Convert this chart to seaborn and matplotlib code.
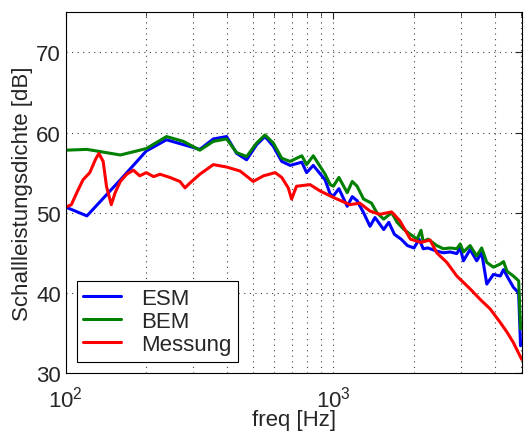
import numpy as np
import pandas as pd
import seaborn as sns
import matplotlib
matplotlib.use("Agg")
import matplotlib.pyplot as plt

# values
freq_bem = [100, 120, 160, 200, 238, 275, 317, 356, 399, 435, 474, 517, 555, 596, 641, 689,
            762, 794, 841, 931, 973, 1000, 1048, 1126, 1176, 1226, 1296, 1387, 1453, 1541,
            1650, 1730, 1835, 1939, 2054, 2124, 2165, 2256, 2432, 2576, 2730, 2890, 2975,
            3060, 3240, 3430, 3580, 3740, 3960, 4200, 4320, 4450, 4700, 4920, 5000]
bem = [57.8, 57.9, 57.2, 58.0, 59.5, 58.9, 57.8, 58.9, 59.2, 57.5, 57.0, 58.7, 59.7, 58.7, 56.8, 56.4,
       57.1, 56.0, 57.1, 54.8, 53.5, 53.3, 54.4, 52.5, 53.9, 53.3, 51.7, 51.2, 50.0, 49.2,
       50.0, 48.8, 47.9, 47.3, 46.7, 47.8, 46.4, 46.7, 45.9, 45.5, 45.6, 45.5, 46.1,
       45.1, 45.9, 44.6, 45.6, 43.8, 43.2, 43.6, 43.9, 42.7, 42.1, 41.5, 35.5]

freq_esm = [100, 120, 160, 200, 238, 317, 356, 399, 435, 474, 517, 555, 596, 641, 689, 762,
            794, 841, 931, 973, 1000, 1048, 1126, 1176, 1226, 1296, 1370, 1430, 1541, 1610,
            1690, 1790, 1890, 2000, 2090, 2165, 2256, 2432, 2576, 2730, 2890, 2975, 3060,
            3240, 3430, 3580, 3740, 3960, 4200, 4320, 4450, 4700, 4920, 5000]
esm = [50.7, 49.6, 54.1, 57.7, 59.1, 57.9, 59.2, 59.5, 57.4, 56.6, 58.5, 59.5, 58.3, 56.4, 55.9, 56.3,
       55.0, 55.9, 54.1, 52.3, 52.1, 53.0, 50.8, 52.0, 51.5, 50.0, 48.3, 49.4, 47.9, 48.8,
       47.3, 46.7, 45.9, 45.6, 46.7, 45.5, 45.6, 45.2, 45.0, 45.1, 44.9, 45.6, 44.0,
       45.4, 44.0, 45.0, 41.1, 42.3, 42.1, 42.9, 42.1, 40.7, 40.0, 33.4]

freq_mess = [100, 105, 110, 116, 123, 129, 133, 138, 142, 148, 153, 160, 169, 179, 189, 200,
             213, 225, 245, 267, 279, 291, 317, 356, 399, 448, 502, 548, 606, 641, 678, 698,
             728, 818, 893, 1000, 1153, 1254, 1370, 1492, 1650, 1770, 1939, 2124, 2296, 2432,
             2652, 2890, 3240, 3530, 3850, 4200, 4450, 4700, 5050]
mess = [50.7, 51.0, 52.5, 54.1, 55.0, 56.6, 57.4, 56.4, 53.3, 51.0, 52.5, 53.9, 54.8, 55.3, 54.6, 55.0,
        54.5, 54.8, 54.4, 53.9, 53.1, 53.7, 54.8, 56.0, 55.7, 55.2, 53.9, 54.6, 55.0, 54.4, 53.1, 51.7,
        53.3, 53.5, 52.7, 51.9, 51.0, 51.2, 50.2, 49.8, 50.1, 49.0, 46.7, 46.3, 46.6, 45.0,
        43.8, 42.1, 40.5, 39.2, 38.0, 36.3, 35.1, 33.8, 31.7]

sns.set_style("white")
plt.rcParams['font.family'] = ['Liberation Sans', 'DejaVu Sans']

fig = plt.figure(figsize=(5.24, 4.35), dpi=100)
ax = fig.add_axes([0.1254, 0.1402, 0.8702, 0.8292])

sns.lineplot(x=freq_esm, y=esm, ax=ax, color=(0, 0, 1), linewidth=2.2, label="ESM")
sns.lineplot(x=freq_bem, y=bem, ax=ax, color=(0, 0.5, 0), linewidth=2.2, label="BEM")
sns.lineplot(x=freq_mess, y=mess, ax=ax, color=(1, 0, 0), linewidth=2.2, label="Messung")

ax.set_xscale("log")
ax.set_xlim(100, 5050)
ax.set_ylim(30, 75)
ax.set_yticks([30, 40, 50, 60, 70])
ax.grid(True, which="both", axis="x", linestyle=(0, (1, 4)), color="0.25", linewidth=0.8)
ax.grid(True, which="major", axis="y", linestyle=(0, (1, 4)), color="0.25", linewidth=0.8)
ax.tick_params(which="both", direction="in", top=True, right=True, labelsize=16)
ax.tick_params(which="major", length=5)
ax.tick_params(which="minor", length=3)
ax.tick_params(axis="x", pad=9)
for s in ax.spines.values():
    s.set_color("k")
    s.set_linewidth(0.8)

ax.set_xlabel("freq [Hz]", fontsize=16, labelpad=-2)
ax.set_ylabel("Schallleistungsdichte [dB]", fontsize=16, labelpad=2)

leg = ax.legend(loc="lower left", fontsize=16, frameon=True, fancybox=False,
                edgecolor="k", handlelength=1.7, handletextpad=0.9, borderpad=0.3,
                labelspacing=0.1, borderaxespad=0.5, framealpha=1)
leg.get_frame().set_linewidth(0.8)

fig.savefig("out.png", dpi=100)
